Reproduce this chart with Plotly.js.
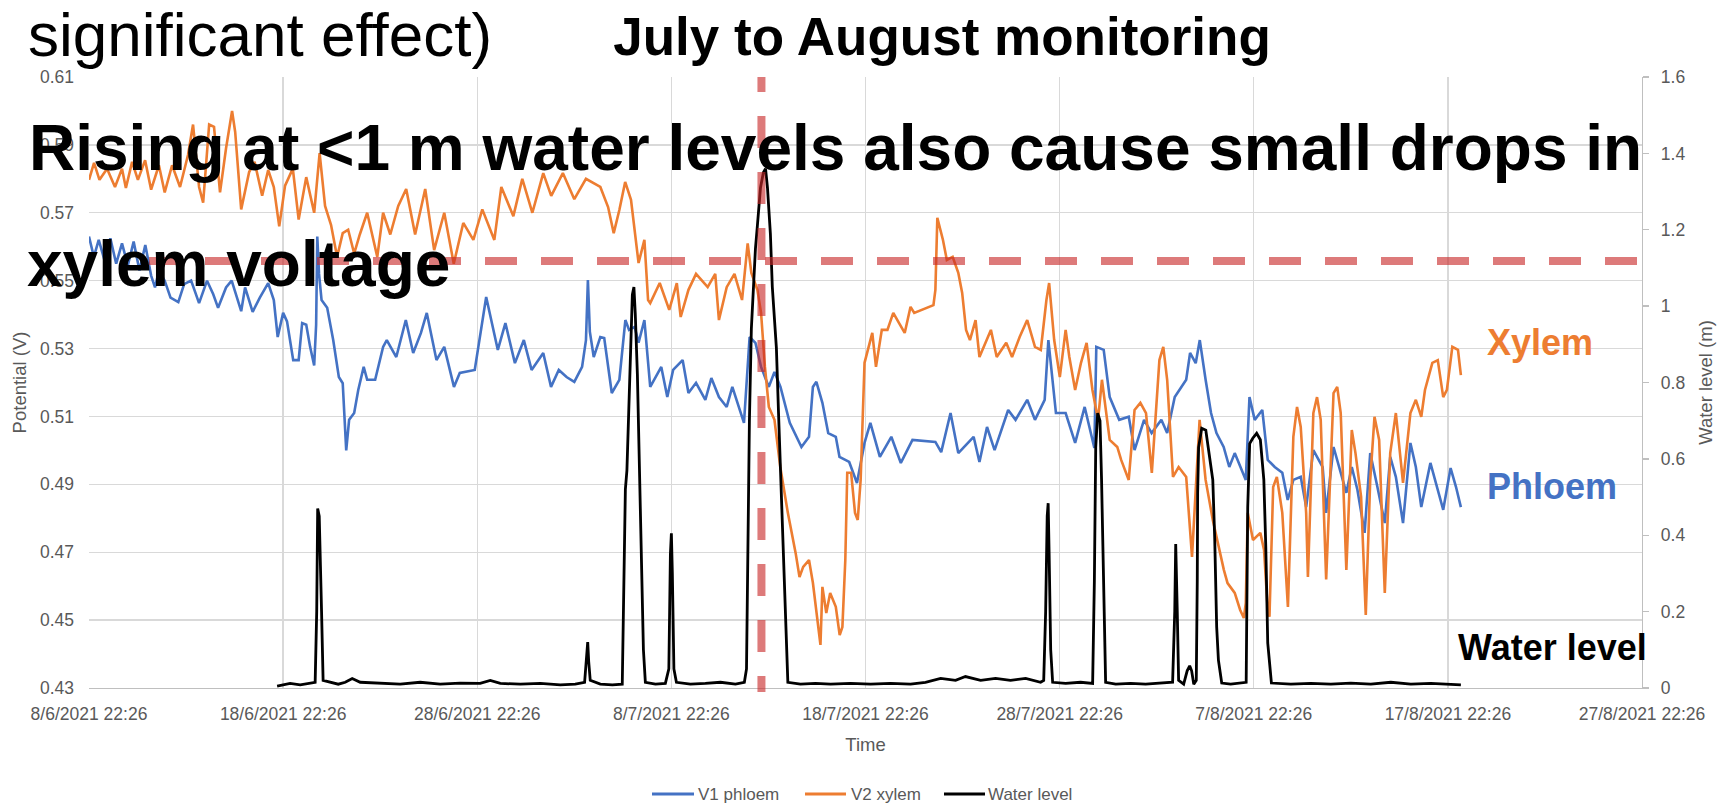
<!DOCTYPE html>
<html>
<head>
<meta charset="utf-8">
<script src="https://cdn.plot.ly/plotly-3.0.1.min.js"></script>
<style>html,body{margin:0;padding:0;background:#fff;}#chart{width:1723px;height:806px;}</style>
</head>
<body>
<div id="chart"></div>
<script>
// ---- Data (x = days after 8/6/2021 22:26) ----
const startDate = '2021-06-08 22:26';
const tickLabelsFormat = '%-d/%-m/%Y %H:%M';

const phloemDay = [0,0.25,0.5,0.8,1.1,1.4,1.7,2.0,2.3,2.6,2.9,3.2,3.4,3.6,3.9,4.2,4.6,4.9,5.26,5.67,6.08,6.4,6.65,7.06,7.35,7.84,8.04,8.43,8.8,9.23,9.52,9.72,10.0,10.2,10.52,10.8,10.98,11.19,11.39,11.6,11.7,11.76,11.85,11.98,12.27,12.58,12.87,13.07,13.25,13.4,13.66,13.87,14.15,14.33,14.74,15.15,15.34,15.83,16.32,16.7,17.1,17.4,17.9,18.3,18.8,19.1,19.87,20.46,21.06,21.45,21.94,22.4,22.8,23.4,23.8,24.2,24.6,25.0,25.4,25.6,25.7,25.8,26.0,26.34,26.54,26.93,27.32,27.63,27.82,28.11,28.31,28.61,28.91,29.48,29.79,30.09,30.58,30.88,31.27,31.75,32.06,32.45,32.85,33.14,33.74,34.03,34.33,34.62,35.02,35.31,35.62,36.1,36.7,37.09,37.29,37.47,37.78,38.08,38.47,38.66,39.16,39.56,39.95,40.25,40.74,41.33,41.82,42.42,43.6,43.9,44.38,44.78,45.57,45.87,46.26,46.65,47.35,47.73,48.33,48.73,49.23,49.42,49.81,50.31,50.8,51.29,51.79,51.89,52.27,52.58,53.07,53.56,53.86,54.35,54.74,55.24,55.54,55.93,56.52,56.72,57.01,57.22,57.52,57.8,58.08,58.45,58.74,59.02,59.59,59.78,60.05,60.44,60.72,61.08,61.47,61.75,62.04,62.42,62.7,63.07,63.55,63.73,64.11,64.48,64.77,65.05,65.34,65.71,66.0,66.37,66.75,67.03,67.32,67.69,68.07,68.35,68.63,69.1,69.38,69.76,70.14,70.42,70.67];
const phloemV = [0.563,0.557,0.562,0.556,0.5625,0.555,0.561,0.5545,0.5615,0.553,0.5605,0.5515,0.548,0.553,0.550,0.545,0.5437,0.549,0.550,0.5434,0.550,0.546,0.542,0.548,0.550,0.541,0.548,0.5408,0.545,0.5493,0.5443,0.5334,0.5405,0.538,0.5266,0.5266,0.5375,0.537,0.5305,0.525,0.537,0.563,0.552,0.5443,0.542,0.5325,0.5216,0.5198,0.500,0.509,0.511,0.5178,0.5246,0.5208,0.5208,0.5305,0.5325,0.5275,0.5384,0.5287,0.5346,0.5405,0.5266,0.5305,0.5187,0.5228,0.5237,0.5452,0.5296,0.5375,0.5257,0.5325,0.5237,0.5287,0.5187,0.5237,0.5216,0.5202,0.5246,0.5325,0.5502,0.535,0.5275,0.5334,0.5331,0.5169,0.5208,0.5384,0.5355,0.5364,0.5317,0.5384,0.5187,0.5246,0.5157,0.5237,0.5266,0.5169,0.5199,0.5149,0.5213,0.5157,0.5128,0.5187,0.5081,0.5334,0.5317,0.5246,0.5187,0.5231,0.5187,0.5081,0.501,0.504,0.5187,0.5202,0.514,0.5051,0.504,0.4981,0.4966,0.4904,0.5022,0.5081,0.4981,0.504,0.4963,0.5031,0.5025,0.4995,0.511,0.4992,0.504,0.4966,0.5069,0.5001,0.5119,0.509,0.5149,0.509,0.5149,0.5325,0.511,0.511,0.5022,0.5128,0.5007,0.5305,0.5296,0.5157,0.509,0.5099,0.5001,0.509,0.5051,0.509,0.5051,0.5157,0.5208,0.5287,0.5257,0.5325,0.5208,0.511,0.5051,0.501,0.4951,0.4992,0.4913,0.5157,0.509,0.5119,0.4972,0.4951,0.4934,0.4854,0.4913,0.4922,0.4833,0.5001,0.4951,0.4816,0.501,0.4934,0.4875,0.4951,0.4884,0.4757,0.4992,0.4892,0.4786,0.4981,0.4922,0.4786,0.5022,0.4951,0.4833,0.4963,0.4904,0.4825,0.4948,0.4892,0.4833];

const xylemDay = [0,0.26,0.54,0.93,1.34,1.7,1.9,2.22,2.52,2.89,3.2,3.6,3.9,4.28,4.69,5.1,5.36,5.67,5.88,6.19,6.44,6.75,7.06,7.37,7.53,7.84,8.25,8.53,8.92,9.23,9.52,9.8,10.1,10.5,10.8,11.19,11.6,11.88,12.16,12.47,12.78,13.07,13.35,13.66,13.95,14.33,14.85,15.15,15.52,15.93,16.34,16.8,17.32,17.78,18.3,18.79,19.28,19.8,20.26,20.88,21.24,21.86,22.32,22.84,23.4,23.81,24.41,25.0,25.6,26.34,26.74,27.03,27.32,27.62,27.92,28.31,28.61,28.8,28.91,29.4,29.89,30.28,30.48,30.88,31.27,31.87,32.26,32.45,32.85,33.25,33.64,33.93,34.12,34.43,34.62,34.82,35.02,35.31,35.61,36.0,36.4,36.6,36.79,37.09,37.29,37.58,37.68,37.78,37.98,38.18,38.47,38.67,38.81,38.96,39.06,39.26,39.46,39.6,39.75,39.95,40.15,40.35,40.54,40.84,41.13,41.43,41.73,42.02,42.32,42.51,43.5,43.6,43.7,43.99,44.19,44.49,44.78,44.98,45.18,45.38,45.67,45.87,46.46,46.76,47.25,47.55,47.94,48.33,48.73,49.03,49.32,49.46,49.72,50.01,50.31,50.5,50.8,51.1,51.39,51.69,51.98,52.18,52.58,52.97,53.17,53.56,53.86,54.16,54.45,54.75,55.14,55.34,55.54,55.84,56.13,56.52,56.82,57.02,57.21,57.52,57.89,58.46,58.65,59.02,59.3,59.49,59.59,59.69,59.96,60.34,60.53,60.72,60.81,61.0,61.19,61.47,61.76,62.04,62.23,62.42,62.7,62.79,63.07,63.26,63.45,63.73,64.11,64.3,64.48,64.77,65.05,65.24,65.53,65.77,66.0,66.22,66.46,66.75,67.03,67.32,67.69,68.07,68.35,68.63,68.82,69.2,69.48,69.76,69.95,70.23,70.52,70.67];
const xylemV = [0.5797,0.5847,0.5797,0.583,0.5776,0.583,0.5773,0.585,0.5797,0.5855,0.5768,0.584,0.576,0.584,0.5776,0.587,0.596,0.5776,0.573,0.596,0.5953,0.576,0.589,0.600,0.5938,0.571,0.582,0.585,0.575,0.5826,0.5776,0.566,0.578,0.583,0.568,0.5805,0.570,0.5876,0.572,0.5664,0.557,0.564,0.565,0.558,0.5636,0.570,0.557,0.570,0.5636,0.572,0.577,0.5636,0.577,0.559,0.570,0.555,0.567,0.562,0.571,0.562,0.5776,0.569,0.580,0.570,0.5817,0.575,0.5817,0.574,0.580,0.5776,0.5717,0.564,0.5708,0.5791,0.5738,0.5552,0.562,0.5443,0.5434,0.5493,0.5414,0.5493,0.5393,0.5473,0.552,0.5481,0.552,0.5384,0.5481,0.552,0.5443,0.561,0.5523,0.5473,0.5405,0.5246,0.5128,0.509,0.4951,0.4816,0.4698,0.4627,0.4657,0.4677,0.461,0.448,0.4427,0.4598,0.4521,0.458,0.4539,0.4456,0.448,0.4677,0.4934,0.4934,0.4816,0.4795,0.4913,0.5258,0.5305,0.5346,0.5246,0.5355,0.5355,0.5405,0.5375,0.5346,0.5423,0.5405,0.5428,0.5473,0.5685,0.562,0.5561,0.557,0.5523,0.5464,0.5355,0.5325,0.5384,0.5275,0.5355,0.5275,0.5317,0.5275,0.5334,0.5384,0.5305,0.5296,0.5443,0.5493,0.5325,0.5216,0.5355,0.5275,0.5178,0.5258,0.5317,0.5178,0.509,0.5208,0.5031,0.501,0.4972,0.4913,0.5119,0.514,0.511,0.4934,0.5266,0.5305,0.5208,0.4922,0.4951,0.4922,0.4686,0.4892,0.509,0.4913,0.4795,0.4648,0.4609,0.458,0.453,0.4506,0.4551,0.4816,0.4736,0.4757,0.4707,0.453,0.451,0.4892,0.4922,0.4816,0.4539,0.504,0.5128,0.5069,0.4816,0.4627,0.511,0.5157,0.509,0.462,0.5169,0.5187,0.511,0.4648,0.506,0.4992,0.4863,0.4515,0.4913,0.5099,0.5031,0.458,0.4992,0.511,0.4904,0.511,0.5149,0.5099,0.5178,0.5258,0.5266,0.5157,0.5178,0.5305,0.5296,0.5222];

const waterDay = [9.69,9.95,10.36,10.88,11.39,11.65,11.73,11.78,11.86,11.91,11.98,12.06,12.42,12.84,13.2,13.56,13.97,15.0,16.03,17.06,18.09,19.12,20.15,20.67,21.19,22.22,23.25,24.28,25.05,25.53,25.64,25.69,25.74,25.82,26.34,26.96,27.47,27.55,27.63,27.71,27.78,27.89,27.99,28.07,28.14,28.25,28.35,28.45,28.56,28.66,29.18,29.69,29.87,29.95,30.0,30.05,30.13,30.26,30.98,31.75,32.53,33.3,33.76,33.87,33.94,34.02,34.12,34.23,34.33,34.43,34.59,34.74,34.85,34.95,35.1,35.2,35.31,35.41,35.52,35.62,35.72,35.82,35.93,36.0,36.65,37.42,38.2,39.23,40.26,41.29,42.32,43.09,43.87,44.64,45.15,45.93,46.7,47.47,48.25,49.02,49.18,49.28,49.36,49.41,49.46,49.54,49.64,50.31,51.08,51.7,51.79,51.86,51.96,52.08,52.16,52.27,52.37,52.89,53.66,54.43,55.21,55.82,55.93,55.98,56.06,56.13,56.39,56.57,56.7,56.8,56.91,57.04,57.09,57.11,57.16,57.32,57.53,57.71,57.89,57.99,58.09,58.18,58.35,58.81,59.33,59.61,59.69,59.79,59.95,60.15,60.34,60.52,60.62,60.72,60.91,61.91,62.94,63.97,65.0,66.03,67.06,68.09,69.12,70.15,70.67];
const waterLevel = [0.005,0.008,0.012,0.008,0.012,0.015,0.2,0.47,0.45,0.36,0.2,0.02,0.015,0.01,0.015,0.025,0.015,0.012,0.01,0.015,0.01,0.013,0.012,0.02,0.012,0.01,0.012,0.008,0.01,0.015,0.08,0.12,0.07,0.02,0.01,0.008,0.01,0.3,0.52,0.57,0.7,0.9,1.03,1.05,0.98,0.82,0.6,0.35,0.1,0.015,0.01,0.012,0.05,0.35,0.405,0.3,0.05,0.015,0.01,0.012,0.015,0.01,0.015,0.05,0.4,0.7,0.94,1.07,1.15,1.21,1.31,1.35,1.36,1.31,1.19,1.05,0.95,0.89,0.72,0.58,0.46,0.3,0.12,0.015,0.01,0.012,0.01,0.012,0.01,0.012,0.01,0.015,0.025,0.02,0.03,0.02,0.025,0.02,0.025,0.015,0.02,0.2,0.45,0.484,0.35,0.1,0.015,0.012,0.015,0.012,0.28,0.63,0.72,0.70,0.545,0.28,0.015,0.01,0.012,0.01,0.012,0.015,0.2,0.377,0.2,0.02,0.01,0.045,0.058,0.045,0.01,0.02,0.28,0.51,0.63,0.68,0.675,0.615,0.545,0.39,0.16,0.073,0.013,0.01,0.012,0.015,0.474,0.64,0.654,0.667,0.65,0.545,0.37,0.118,0.013,0.01,0.012,0.01,0.013,0.01,0.015,0.01,0.012,0.01,0.008];

// marker positions
const markerDay = 34.64;        // vertical dashed line
const thresholdLevel = 1.118;    // horizontal dashed line (water level axis)

// ---- helpers ----
const t0 = Date.UTC(2021, 5, 8, 22, 26);
function toDate(d) {
  return new Date(t0 + d * 86400000).toISOString().replace('T', ' ').slice(0, 19);
}
const FONT = 'Liberation Sans, Arial, Helvetica, sans-serif';
const GREY = '#595959';
const BLUE = '#4472C4', ORANGE = '#ED7D31', BLACK = '#000000';
const RED = 'rgba(200,40,40,0.62)';

const traces = [
  {x: phloemDay.map(toDate), y: phloemV, name: 'V1 phloem', type: 'scatter', mode: 'lines',
   line: {color: BLUE, width: 2.6}, yaxis: 'y'},
  {x: xylemDay.map(toDate), y: xylemV, name: 'V2 xylem', type: 'scatter', mode: 'lines',
   line: {color: ORANGE, width: 2.6}, yaxis: 'y'},
  {x: waterDay.map(toDate), y: waterLevel, name: 'Water level', type: 'scatter', mode: 'lines',
   line: {color: BLACK, width: 2.8}, yaxis: 'y2'}
];

const vDash = '15px,24px' + ',32px,24px'.repeat(11);

// plot-area pixel geometry helpers (for placing text)
const L = 89, T = 77, W = 1553, H = 611;
const px = x => (x - L) / W;
const py = y => (T + H - y) / H;

const legendItems = [
  {name: 'V1 phloem', color: BLUE, x0: 652, x1: 694, tx: 696},
  {name: 'V2 xylem', color: ORANGE, x0: 805, x1: 846, tx: 849},
  {name: 'Water level', color: BLACK, x0: 944, x1: 985, tx: 986}
];
const legendY = 794;

const shapes = [
  {type: 'line', xref: 'paper', yref: 'y2', x0: px(149), x1: px(1637), y0: thresholdLevel, y1: thresholdLevel,
   line: {color: RED, width: 8, dash: '32px,24px'}, layer: 'above'},
  {type: 'line', xref: 'x', yref: 'paper', x0: toDate(markerDay), x1: toDate(markerDay), y0: 1, y1: py(692),
   line: {color: RED, width: 8, dash: vDash}, layer: 'above'}
];
legendItems.forEach(it => shapes.push({type: 'line', xref: 'paper', yref: 'paper',
  x0: px(it.x0), x1: px(it.x1), y0: py(legendY), y1: py(legendY), line: {color: it.color, width: 3}}));

const annotations = [
  {text: 'significant effect)', xref: 'paper', yref: 'paper', x: px(26), y: py(56 - 0.3465 * 62),
   xanchor: 'left', yanchor: 'middle', showarrow: false, font: {family: FONT, size: 62, color: '#000'}},
  {text: '<b>Rising at &lt;1 m water levels also cause small drops in</b>', xref: 'paper', yref: 'paper',
   x: px(27), y: py(170 - 0.3465 * 64), xanchor: 'left', yanchor: 'middle', showarrow: false,
   font: {family: FONT, size: 64, color: '#000'}},
  {text: '<b>xylem voltage</b>', xref: 'paper', yref: 'paper',
   x: px(25), y: py(286 - 0.3465 * 64), xanchor: 'left', yanchor: 'middle', showarrow: false,
   font: {family: FONT, size: 64, color: '#000'}},
  {text: '<b>Xylem</b>', xref: 'paper', yref: 'paper', x: px(1485), y: py(355 - 0.3465 * 36),
   xanchor: 'left', yanchor: 'middle', showarrow: false, font: {family: FONT, size: 36, color: ORANGE}},
  {text: '<b>Phloem</b>', xref: 'paper', yref: 'paper', x: px(1485), y: py(499 - 0.3465 * 36),
   xanchor: 'left', yanchor: 'middle', showarrow: false, font: {family: FONT, size: 36, color: BLUE}},
  {text: '<b>Water level</b>', xref: 'paper', yref: 'paper', x: px(1456), y: py(660 - 0.3465 * 36),
   xanchor: 'left', yanchor: 'middle', showarrow: false, font: {family: FONT, size: 36, color: BLACK}}
];
legendItems.forEach(it => annotations.push({text: it.name, xref: 'paper', yref: 'paper',
  x: px(it.tx), y: py(legendY), xanchor: 'left', yanchor: 'middle', showarrow: false,
  font: {family: FONT, size: 17, color: GREY}}));

const axisFont = {family: FONT, size: 17.5, color: GREY};
const titleFont = {family: FONT, size: 18.5, color: GREY};

const layout = {
  width: 1723, height: 806,
  margin: {l: L, r: 1723 - L - W, t: T, b: 806 - T - H, pad: 0, autoexpand: false},
  paper_bgcolor: '#ffffff', plot_bgcolor: '#ffffff',
  showlegend: false,
  title: {text: '<b>July to August monitoring</b>', font: {family: FONT, size: 53, color: '#000'},
          xref: 'paper', x: px(942), xanchor: 'center', yref: 'container', y: 1 - 36.5 / 806, yanchor: 'middle'},
  xaxis: {type: 'date', range: [toDate(0), toDate(80)], tick0: startDate, dtick: 10 * 86400000,
          tickformat: tickLabelsFormat, showgrid: true, gridcolor: '#d9d9d9', gridwidth: 1.3,
          showline: true, linecolor: '#bfbfbf', linewidth: 1.3, zeroline: false, ticks: '',
          tickfont: axisFont, ticklabelstandoff: 10, automargin: false,
          title: {text: 'Time', font: titleFont, standoff: 14}},
  yaxis: {range: [0.43, 0.61], tick0: 0.43, dtick: 0.02, showgrid: true, gridcolor: '#d9d9d9', gridwidth: 1.3,
          zeroline: false, showline: false, ticks: '', tickfont: axisFont, ticklabelstandoff: 14, automargin: false,
          title: {text: 'Potential (V)', font: titleFont, standoff: 8}},
  yaxis2: {overlaying: 'y', side: 'right', range: [0, 1.6], tick0: 0, dtick: 0.2, showgrid: false, zeroline: false,
           showline: true, linecolor: '#bfbfbf', linewidth: 1.3, ticks: 'outside', ticklen: 6, tickcolor: '#bfbfbf',
           tickwidth: 1.3, tickfont: axisFont, ticklabelstandoff: 8, automargin: false,
           title: {text: 'Water level (m)', font: titleFont, standoff: 14}},
  shapes: shapes,
  annotations: annotations
};

Plotly.newPlot('chart', traces, layout, {displayModeBar: false, staticPlot: true});
</script>
</body>
</html>
